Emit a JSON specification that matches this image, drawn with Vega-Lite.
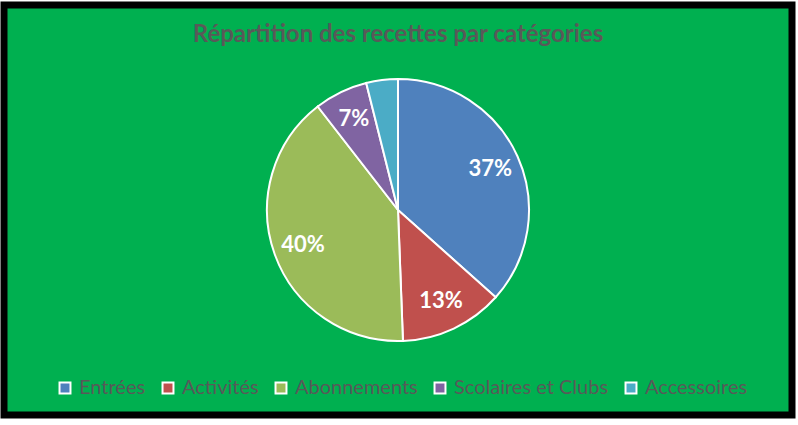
{
  "$schema": "https://vega.github.io/schema/vega-lite/v6.json",
  "width": 788,
  "height": 410,
  "autosize": "none",
  "padding": {"left": 4, "top": 5, "right": 6, "bottom": 10},
  "background": "white",
  "view": {"fill": "#00B050", "stroke": "#000000", "strokeWidth": 7},
  "config": {
    "view": {"fill": "#00B050", "stroke": "#000000", "strokeWidth": 7},
    "legend": {"labelFont": "Lato", "labelFontSize": 20, "labelColor": "#595959"}
  },
  "title": {
    "text": "Répartition des recettes par catégories",
    "font": "Lato",
    "fontSize": 24,
    "fontWeight": "bold",
    "color": "#595959",
    "anchor": "middle",
    "frame": "group",
    "offset": -42
  },
  "data": {
    "values": [
      {"i": 1, "cat": "Entrées", "v": 0.366},
      {"i": 2, "cat": "Activités", "v": 0.128},
      {"i": 3, "cat": "Abonnements", "v": 0.401},
      {"i": 4, "cat": "Scolaires et Clubs", "v": 0.066},
      {"i": 5, "cat": "Accessoires", "v": 0.039}
    ]
  },
  "encoding": {
    "theta": {"field": "v", "type": "quantitative", "stack": true},
    "order": {"field": "i", "type": "quantitative"},
    "color": {
      "field": "cat",
      "type": "nominal",
      "sort": null,
      "scale": {
        "domain": ["Entrées", "Activités", "Abonnements", "Scolaires et Clubs", "Accessoires"],
        "range": ["#4F81BD", "#C0504D", "#9BBB59", "#8064A2", "#4BACC6"]
      },
      "legend": {
        "orient": "none",
        "legendX": 51,
        "legendY": 373,
        "direction": "horizontal",
        "columns": 5,
        "title": null,
        "symbolType": "square",
        "symbolSize": 120,
        "symbolStrokeColor": "white",
        "symbolStrokeWidth": 2,
        "symbolOpacity": 1,
        "columnPadding": 12,
        "labelOffset": 4
      }
    }
  },
  "layer": [
    {"mark": {"type": "arc", "outerRadius": 131, "stroke": "white", "strokeWidth": 2}},
    {
      "mark": {"type": "text", "radius": 101, "font": "Lato", "fontSize": 22, "fontWeight": "bold"},
      "encoding": {
        "text": {"field": "v", "type": "quantitative", "format": ".0%"},
        "color": {"value": "white"},
        "opacity": {"condition": {"test": "datum.cat === 'Accessoires'", "value": 0}, "value": 1}
      }
    }
  ]
}
